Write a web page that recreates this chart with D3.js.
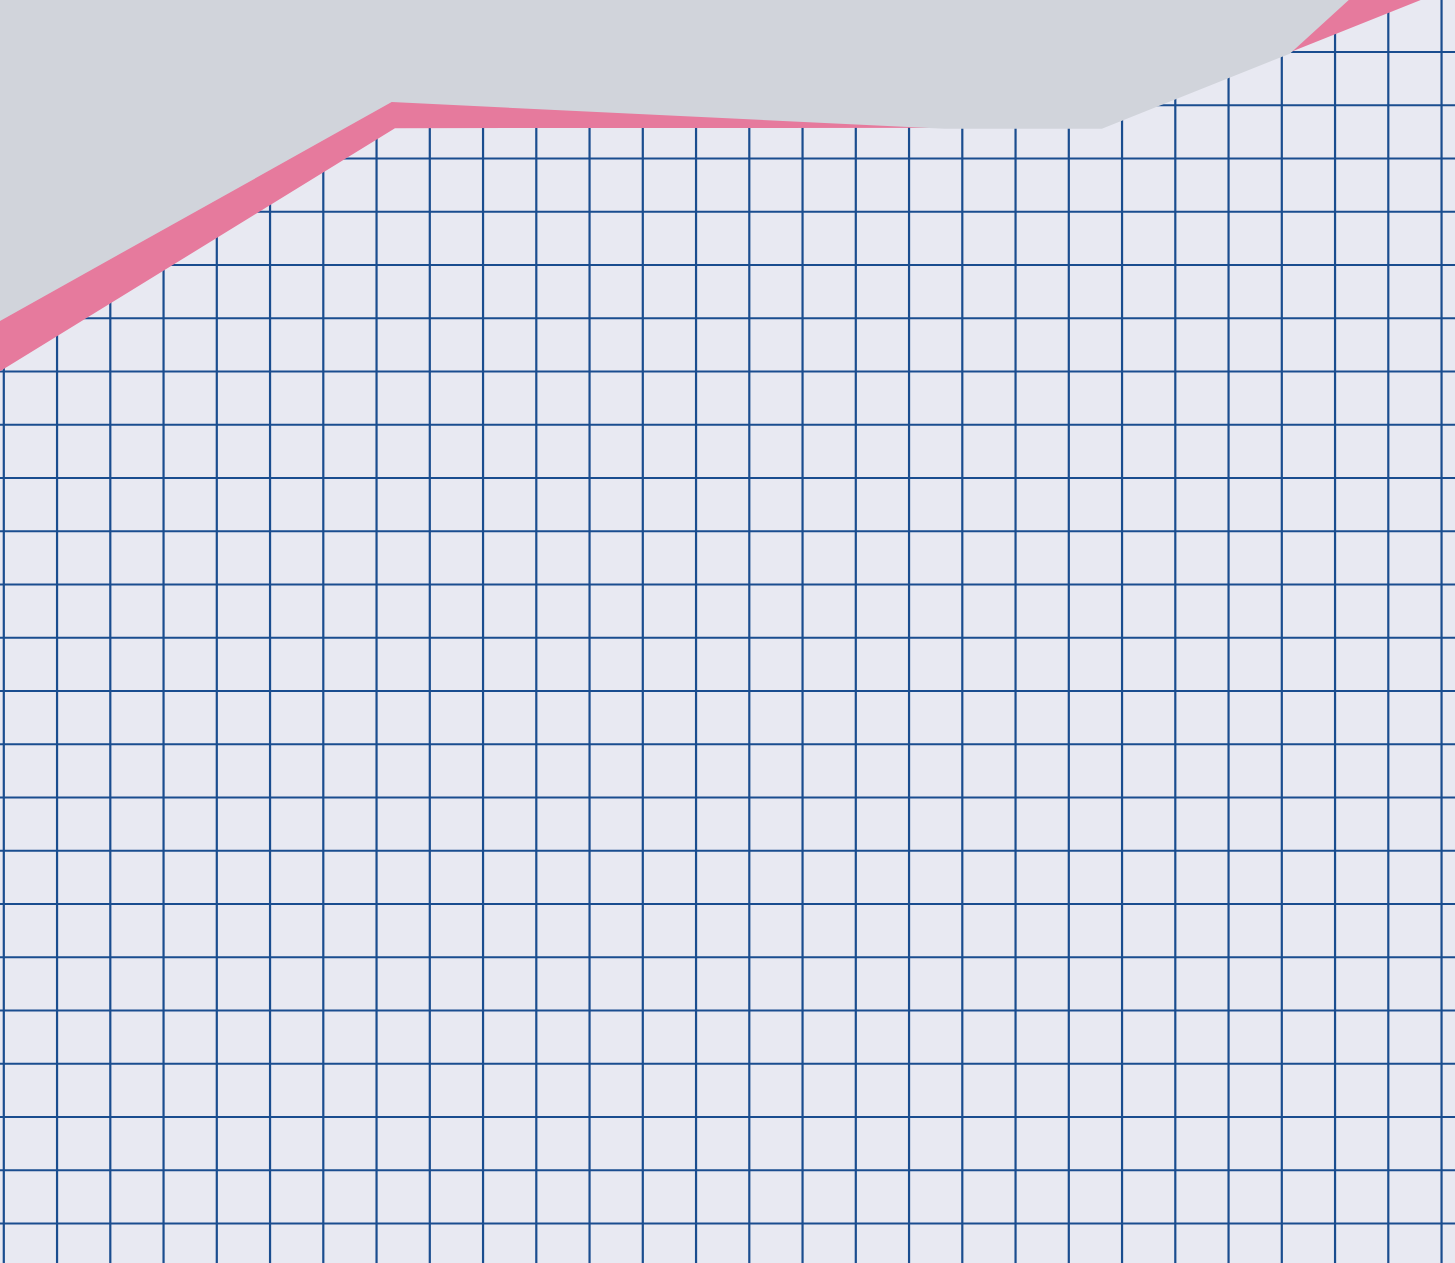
<!DOCTYPE html>
<html>
<head>
<meta charset="utf-8">
<script src="https://cdn.jsdelivr.net/npm/d3@7"></script>
<style>
  html, body { margin: 0; padding: 0; background: #e8e9f2; overflow: hidden; }
</style>
</head>
<body>
<div id="chart"></div>
<script>
// SIZES
var width = 1455,
    height = 1263;

// DATA (grid units)
// lower edge of the pink band (top of the plain area)
var baseX = [-0.1, 7.355, 20.63, 27.4];
var baseY = [15.97, 20.56, 20.57, 23.28];
// lower edge of the grey area (top of the pink band)
var topX = [-0.1, 7.294, 17.68, 20.63, 24.16, 25.27, 27.4];
var topY = [16.92, 21.05, 20.55, 20.55, 21.96, 22.97, 24.77];
// grid lines
var gridX = [0,1,2,3,4,5,6,7,8,9,10,11,12,13,14,15,16,17,18,19,20,21,22,23,24,25,26,27];
var gridY = [0,1,2,3,4,5,6,7,8,9,10,11,12,13,14,15,16,17,18,19,20,21,22,23];

// COLOURS
var col_bg = "#e8e9f2",
    col_grid = "#1a4d8f",
    col_pink = "#e67a9d",
    col_grey = "#d1d4db";

// SCALES: one grid step is ~53.25px
var step = 53.25;
var x = d3.scaleLinear()
    .domain([-3.3 / step, (width - 3.3) / step])
    .range([0, width]);
var y = d3.scaleLinear()
    .domain([(1223 - height) / step, 1223 / step])
    .range([height, 0]);

var svg = d3.select("#chart").append("svg")
    .attr("width", width)
    .attr("height", height)
    .style("display", "block");

svg.append("rect")
    .attr("width", width).attr("height", height)
    .attr("fill", col_bg);

// GRID (axes without labels)
var gx = svg.append("g")
    .attr("transform", "translate(0," + height + ")")
    .call(d3.axisBottom(x).tickValues(gridX).tickSize(height).tickSizeOuter(0).tickFormat(""));
gx.selectAll("line").attr("y2", -height);
var gy = svg.append("g")
    .call(d3.axisLeft(y).tickValues(gridY).tickSize(-width).tickSizeOuter(0).tickFormat(""));
svg.selectAll(".domain").remove();
svg.selectAll(".tick line")
    .attr("stroke", col_grid)
    .attr("stroke-width", 2.2);

// AREAS (filled from the top edge down to each line)
var fromTop = d3.area()
    .x(function(d) { return x(d[0]); })
    .y0(-10)
    .y1(function(d) { return y(d[1]); });

svg.append("path")
    .datum(d3.zip(baseX, baseY))
    .attr("fill", col_pink)
    .attr("d", fromTop);

svg.append("path")
    .datum(d3.zip(topX, topY))
    .attr("fill", col_grey)
    .attr("d", fromTop);
</script>
</body>
</html>
